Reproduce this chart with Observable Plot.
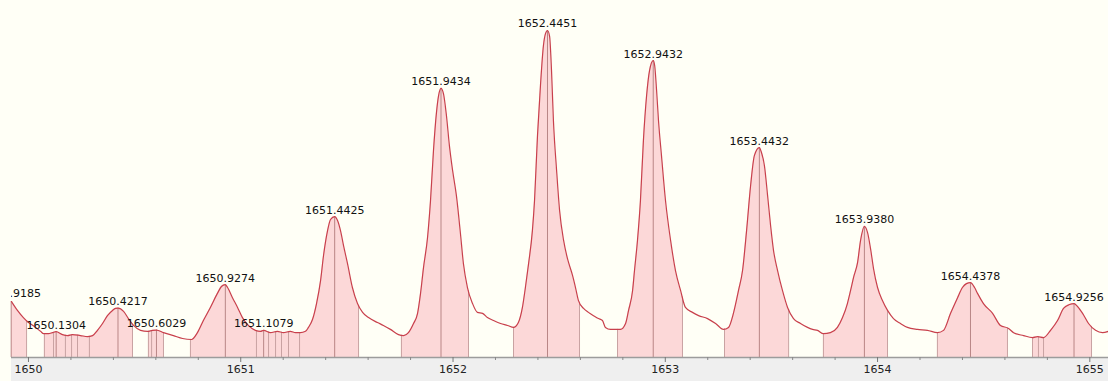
<!DOCTYPE html>
<html>
<head>
<meta charset="utf-8">
<script src="https://cdn.jsdelivr.net/npm/d3@7"></script>
<script src="https://cdn.jsdelivr.net/npm/@observablehq/plot@0.6"></script>
<style>
  html, body { margin: 0; padding: 0; background: #fffff6; }
  #chart svg { display: block; }
</style>
</head>
<body>
<div id="chart"></div>
<script>
// Isotope cluster profile: m/z against relative intensity (%)
const mz = [
  1649.920, 1649.948, 1649.976, 1650.000, 1650.028, 1650.057, 1650.071, 1650.094, 1650.113, 1650.130,
  1650.160, 1650.184, 1650.207, 1650.245, 1650.278, 1650.302, 1650.325, 1650.349, 1650.372, 1650.396,
  1650.410, 1650.422, 1650.448, 1650.471, 1650.495, 1650.528, 1650.561, 1650.584, 1650.603, 1650.636,
  1650.683, 1650.726, 1650.768, 1650.796, 1650.824, 1650.857, 1650.890, 1650.909, 1650.927, 1650.938,
  1650.961, 1650.985, 1651.008, 1651.036, 1651.069, 1651.093, 1651.108, 1651.140, 1651.173, 1651.201,
  1651.234, 1651.258, 1651.281, 1651.305, 1651.319, 1651.338, 1651.357, 1651.376, 1651.390, 1651.409,
  1651.423, 1651.4425, 1651.456, 1651.470, 1651.484, 1651.503, 1651.526, 1651.550, 1651.574, 1651.602,
  1651.644, 1651.672, 1651.705, 1651.743, 1651.767, 1651.790, 1651.814, 1651.833, 1651.847, 1651.861,
  1651.880, 1651.894, 1651.908, 1651.922, 1651.932, 1651.9434, 1651.955, 1651.969, 1651.983, 1651.998,
  1652.016, 1652.035, 1652.049, 1652.068, 1652.092, 1652.115, 1652.139, 1652.162, 1652.191, 1652.224,
  1652.257, 1652.285, 1652.308, 1652.327, 1652.341, 1652.356, 1652.374, 1652.384, 1652.398, 1652.412,
  1652.426, 1652.436, 1652.4451, 1652.455, 1652.464, 1652.473, 1652.488, 1652.502, 1652.521, 1652.539,
  1652.563, 1652.577, 1652.591, 1652.615, 1652.638, 1652.662, 1652.685, 1652.704, 1652.718, 1652.742,
  1652.789, 1652.813, 1652.827, 1652.846, 1652.855, 1652.869, 1652.883, 1652.897, 1652.912, 1652.926,
  1652.9432, 1652.950, 1652.959, 1652.968, 1652.982, 1653.001, 1653.025, 1653.048, 1653.072, 1653.095,
  1653.128, 1653.157, 1653.199, 1653.237, 1653.274, 1653.298, 1653.321, 1653.345, 1653.364, 1653.383,
  1653.402, 1653.420, 1653.4432, 1653.453, 1653.467, 1653.482, 1653.496, 1653.510, 1653.529, 1653.552,
  1653.576, 1653.604, 1653.637, 1653.670, 1653.694, 1653.717, 1653.745, 1653.778, 1653.811, 1653.835,
  1653.858, 1653.873, 1653.887, 1653.906, 1653.920, 1653.938, 1653.953, 1653.967, 1653.981, 1654.000,
  1654.023, 1654.047, 1654.075, 1654.108, 1654.141, 1654.188, 1654.235, 1654.282, 1654.311, 1654.344,
  1654.377, 1654.400, 1654.419, 1654.4378, 1654.457, 1654.471, 1654.499, 1654.542, 1654.579, 1654.617,
  1654.641, 1654.688, 1654.730, 1654.754, 1654.782, 1654.815, 1654.848, 1654.876, 1654.904, 1654.9256,
  1654.942, 1654.966, 1654.994, 1655.027, 1655.060, 1655.088
];
const intensity = [
  17.1, 14.4, 12.2, 10.7, 9.5, 8.0, 7.3, 7.3, 7.6, 7.9,
  7.0, 6.7, 7.0, 6.7, 6.4, 6.7, 8.3, 10.4, 12.8, 14.4,
  15.0, 15.1, 14.1, 11.9, 9.8, 8.3, 8.0, 8.3, 8.4, 7.6,
  6.7, 5.8, 5.5, 7.6, 11.3, 15.3, 19.6, 21.7, 22.3, 21.4,
  18.3, 15.3, 12.2, 9.8, 8.3, 8.0, 8.3, 7.6, 8.0, 7.6,
  8.0, 7.6, 7.6, 8.0, 9.2, 11.6, 16.5, 23.5, 31.2, 38.8,
  42.2, 43.1, 41.9, 38.8, 34.3, 28.7, 21.4, 16.5, 13.8, 12.2,
  10.7, 9.8, 8.6, 7.0, 6.7, 7.6, 10.4, 13.5, 19.6, 27.5,
  36.7, 48.0, 63.3, 74.9, 80.1, 82.3, 80.7, 74.0, 64.8, 57.2,
  49.5, 37.9, 28.7, 21.4, 16.5, 13.8, 13.5, 12.2, 11.3, 10.4,
  9.8, 9.2, 10.7, 15.3, 21.4, 28.7, 38.8, 48.0, 67.9, 83.2,
  95.4, 99.1, 100.0, 98.2, 87.8, 72.5, 57.2, 45.0, 35.8, 30.3,
  25.1, 21.4, 17.4, 15.0, 13.8, 12.8, 11.9, 11.3, 9.2, 8.6,
  8.6, 10.4, 14.4, 20.5, 26.6, 35.8, 48.0, 66.4, 80.1, 87.8,
  90.8, 89.3, 81.7, 72.5, 61.8, 48.0, 35.8, 26.6, 20.5, 15.3,
  13.8, 12.8, 11.9, 10.4, 8.6, 9.2, 13.5, 20.5, 26.6, 38.8,
  52.6, 61.8, 64.2, 62.7, 58.7, 49.5, 40.4, 32.7, 26.6, 20.5,
  15.3, 11.9, 10.4, 9.2, 8.6, 8.3, 7.3, 7.6, 9.2, 12.2,
  16.5, 20.5, 24.5, 29.1, 35.8, 40.1, 38.2, 33.3, 27.2, 21.4,
  17.4, 14.4, 11.9, 10.4, 9.2, 8.6, 8.3, 7.6, 8.3, 13.5,
  18.3, 21.4, 22.6, 22.9, 21.4, 19.6, 16.5, 13.5, 9.8, 8.9,
  7.6, 6.7, 6.1, 6.4, 6.1, 8.3, 11.3, 15.0, 16.2, 16.5,
  15.6, 13.5, 10.4, 8.3, 7.6, 8.0
];

// Picked peaks (centroid m/z and label text)
const peakMz = [
  1649.9185, 1650.1304, 1650.4217, 1650.6029, 1650.9274, 1651.1079, 1651.4425,
  1651.9434, 1652.4451, 1652.9432, 1653.4432, 1653.9380, 1654.4378, 1654.9256
];
const peakLabels = [
  "1649.9185", "1650.1304", "1650.4217", "1650.6029", "1650.9274", "1651.1079", "1651.4425",
  "1651.9434", "1652.4451", "1652.9432", "1653.4432", "1653.9380", "1654.4378", "1654.9256"
];
const peakHeight = [17.5, 7.9, 15.1, 8.4, 22.3, 8.3, 43.1, 82.3, 100.0, 90.8, 64.2, 40.1, 22.9, 16.5];

// Integration windows (start / end m/z) shaded under the profile
const windowStart = [1649.920, 1650.075, 1650.565, 1650.763, 1651.757, 1652.285, 1652.775, 1653.279, 1653.745, 1654.282, 1654.730];
const windowEnd   = [1649.991, 1650.490, 1650.636, 1651.555, 1652.073, 1652.596, 1653.081, 1653.581, 1654.047, 1654.612, 1655.008];

// Peak boundary markers
const boundaryMz = [
  1649.991, 1650.075, 1650.118, 1650.174, 1650.203, 1650.231, 1650.287, 1650.490,
  1650.565, 1650.580, 1650.636, 1650.763, 1651.074, 1651.131, 1651.164, 1651.192,
  1651.225, 1651.277, 1651.555, 1651.757, 1652.073, 1652.285, 1652.596, 1652.775,
  1653.081, 1653.279, 1653.581, 1653.745, 1654.047, 1654.282, 1654.612, 1654.730,
  1654.758, 1654.782, 1655.008
];

const axisTicks = [1650, 1651, 1652, 1653, 1654, 1655];
const xDomain = [1649.920, 1655.088];
const yDomain = [0, 109.17];

const profile = mz.map((m, i) => ({mz: m, y: intensity[i]}));
const bisect = d3.bisector(d => d.mz).left;
function profileAt(m) {
  const i = bisect(profile, m);
  if (i <= 0) return profile[0].y;
  if (i >= profile.length) return profile[profile.length - 1].y;
  const a = profile[i - 1], b = profile[i];
  const t = (m - a.mz) / (b.mz - a.mz);
  return a.y + t * (b.y - a.y);
}

const shaded = [];
windowStart.forEach((lo, k) => {
  const hi = windowEnd[k];
  shaded.push({mz: lo, y: profileAt(lo), w: k});
  profile.filter(d => d.mz > lo && d.mz < hi).forEach(d => shaded.push({mz: d.mz, y: d.y, w: k}));
  shaded.push({mz: hi, y: profileAt(hi), w: k});
});

const boundaries = boundaryMz.map(m => ({mz: m, y: profileAt(m)}));
const peaks = peakMz.map((m, i) => ({mz: m, label: peakLabels[i], h: peakHeight[i], top: profileAt(m)}));
const minorTicks = d3.range(0, 26).map(i => +(1650 + i * 0.2).toFixed(1)).filter(v => !axisTicks.includes(v));

const lineColor = "#c8404c";

const chart = Plot.plot({
  width: 1108,
  height: 381,
  marginLeft: 11,
  marginRight: 0,
  marginTop: 0,
  marginBottom: 24,
  x: {domain: xDomain, axis: null},
  y: {domain: yDomain, axis: null},
  style: {background: "transparent", fontFamily: "DejaVu Sans, sans-serif", fontSize: "11px"},
  marks: [
    Plot.areaY(shaded, {x: "mz", y: "y", z: "w", fill: "#fcd8d8", curve: "monotone-x"}),
    Plot.ruleX(boundaries, {x: "mz", y1: 0, y2: "y", stroke: "#c9a2a2", strokeWidth: 1}),
    Plot.ruleX(peaks, {x: "mz", y1: 0, y2: "top", stroke: "#b98686", strokeWidth: 1}),
    Plot.line(profile, {x: "mz", y: "y", stroke: lineColor, strokeWidth: 1.2, curve: "monotone-x"}),
    Plot.ruleY([0], {stroke: "#9c9c9c", strokeWidth: 1.5}),
    Plot.axisX(minorTicks, {anchor: "bottom", label: null, tickSize: 3, stroke: "#888", tickFormat: () => ""}),
    Plot.axisX(axisTicks, {anchor: "bottom", label: null, tickSize: 5, tickPadding: 3, stroke: "#777", fill: "#222", fontSize: 11, tickFormat: d => String(d)}),
    Plot.text(peaks, {x: "mz", y: "h", text: "label", lineAnchor: "bottom", dy: -3, fill: "#111", fontSize: 11, clip: true})
  ]
});

// Light grey band behind the m/z axis
const xs = chart.scale("x"), ys = chart.scale("y");
const bandX = xs.apply(xDomain[0]);
const bandY = ys.apply(0);
d3.select(chart).insert("rect", "g")
  .attr("x", bandX).attr("y", bandY)
  .attr("width", 1108 - bandX).attr("height", 381 - bandY)
  .attr("fill", "#efefef");

document.getElementById("chart").appendChild(chart);
</script>
</body>
</html>
